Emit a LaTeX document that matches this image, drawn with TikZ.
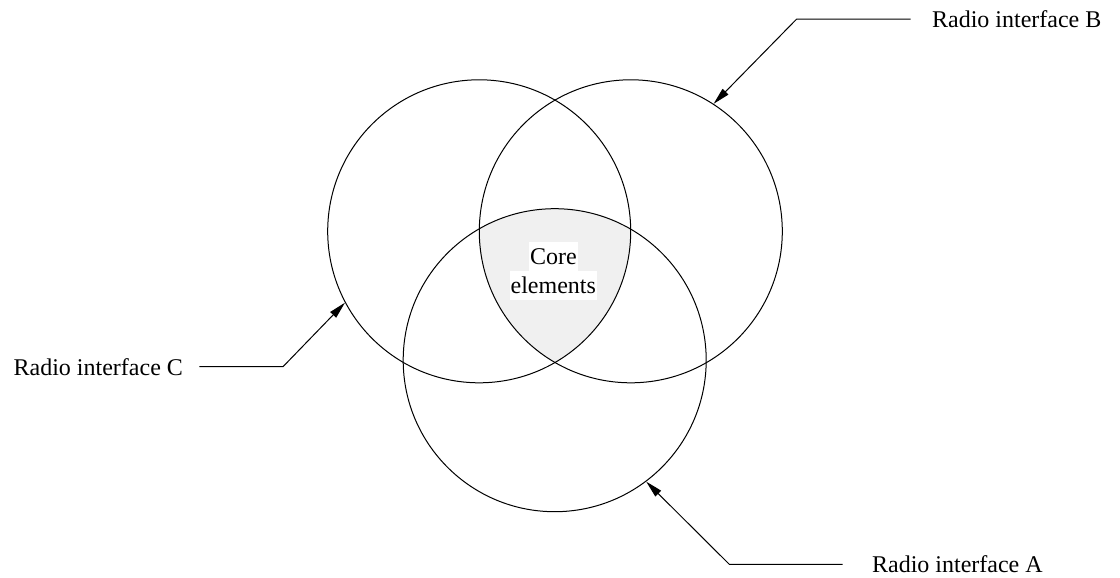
\documentclass[tikz,border=0pt]{standalone}
\usepackage{fontspec}
\setmainfont{Liberation Serif}
\usepackage{tikz}
\usetikzlibrary{arrows.meta,positioning}
\definecolor{ccore}{HTML}{F0F0F0}
\tikzset{
  ring/.style={draw, circle, line width=0.5pt, minimum size=151.5pt, inner sep=0pt},
  lbl/.style={font=\fontsize{12pt}{14pt}\selectfont, inner ysep=0pt},
  core/.style={lbl, fill=white, inner xsep=0.5pt, minimum height=14.5pt},
  lead/.style={-{Triangle[length=8.5pt,width=4pt]}, line width=0.5pt},
}
\begin{document}
\begin{tikzpicture}[x=0.5pt,y=-0.5pt]
\useasboundingbox (0,0) rectangle (1120,578);
% shared region of the three interfaces
\begin{scope}
  \clip (479.2,231.3) circle[radius=75.75pt];
  \clip (630.8,231.3) circle[radius=75.75pt];
  \fill[ccore] (554.7,360.2) circle[radius=75.75pt];
\end{scope}
\node[ring] (rC) at (479.2,231.3) {};
\node[ring] (rB) at (630.8,231.3) {};
\node[ring] (rA) at (554.7,360.2) {};
\node[core] (core1) at (553.5,256.2) {Core};
\node[core] (core2) at (553.3,285) {elements};
% labels and leaders
\node[lbl, anchor=east, inner xsep=8pt] (labC) at (199.3,366.7) {Radio interface C};
\node[lbl, anchor=west, inner xsep=10.5pt] (labB) at (910.7,19) {Radio interface B};
\node[lbl, anchor=west, inner xsep=14.5pt] (labA) at (842.7,564.3) {Radio interface A};
\coordinate (kC) at (283,366.7);
\coordinate (kB) at (796.7,19);
\coordinate (kA) at (729.3,564.3);
\draw[lead] (labC.east) -- (kC) -- (rC.208.4);
\draw[lead] (labB.west) -- (kB) -- (rB.57.2);
\draw[lead] (labA.west) -- (kA) -- (rA.307.2);
\end{tikzpicture}
\end{document}
